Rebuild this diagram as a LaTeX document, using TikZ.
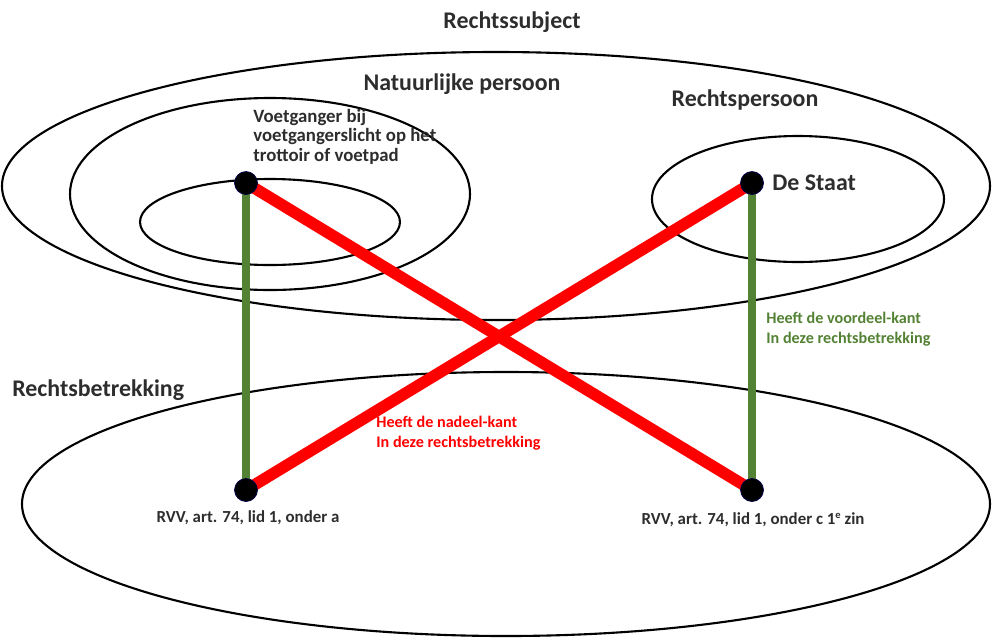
\documentclass[tikz,border=0pt]{standalone}
\usepackage{fontspec}
\setmainfont{Carlito}
\usetikzlibrary{positioning}

\definecolor{groen}{RGB}{84,130,53}
\definecolor{rood}{RGB}{255,0,0}
\definecolor{tekst}{RGB}{45,45,45}

\tikzset{
	punt/.style = {circle, fill=black, draw=black!70!blue, line width=0.4pt, inner sep=0pt, minimum size=0.46cm},
	ovaal/.style = {black, line width=1.2pt},
	groenlijn/.style = {groen, line width=4.6pt},
	roodlijn/.style = {rood, line width=6.6pt},
	kop/.style = {font=\bfseries\fontsize{13.6}{15}\selectfont, text=tekst, inner sep=0pt},
	klein/.style = {font=\bfseries\fontsize{9.2}{11.2}\selectfont, text=tekst, inner sep=0pt, align=left},
}

\begin{document}
\begin{tikzpicture}[x=0.02cm, y=-0.02cm]
	\useasboundingbox (0,0) rectangle (994,640);

	% ellipsen
	\draw [ovaal] (496,186) ellipse [x radius=494, y radius=134];
	\draw [ovaal] (270,194) ellipse [x radius=200, y radius=96];
	\draw [ovaal] (270,222) ellipse [x radius=130, y radius=43];
	\draw [ovaal] (798,199) ellipse [x radius=146, y radius=63];
	\draw [ovaal] (506,504) ellipse [x radius=484, y radius=132];

	% hoekpunten
	\coordinate (voetganger) at (246,183);
	\coordinate (staat) at (752,183);
	\coordinate (artA) at (246,490);
	\coordinate (artC) at (752,490);

	\draw [groenlijn] (voetganger) -- (artA);
	\draw [groenlijn] (staat) -- (artC);
	\draw [roodlijn] (voetganger) -- (artC);
	\draw [roodlijn] (artA) -- (staat);

	\node [punt] (puntV) at (voetganger) {};
	\node [punt] (puntS) at (staat) {};
	\node [punt] (puntA) at (artA) {};
	\node [punt] (puntC) at (artC) {};

	% teksten
	\node [kop] (subject) at (512,22) {Rechtssubject};
	\node [kop] (natuurlijk) at (462,84) {Natuurlijke persoon};
	\node [kop] (rechtspersoon) at (745,100) {Rechtspersoon};
	\node [kop, anchor=west] (destaat) at (772,183) {De Staat};
	\node [kop, anchor=west] (betrekking) at (12,390) {Rechtsbetrekking};
	\node [klein, font=\bfseries\fontsize{10.7}{11}\selectfont, anchor=north west] (voetgangertekst) at (253,109) {Voetganger bij\\voetgangerslicht op het\\trottoir of voetpad};
	\node [klein, text=groen, anchor=north west] (voordeel) at (766,312) {Heeft de voordeel-kant\\In deze rechtsbetrekking};
	\node [klein, text=rood, anchor=north west] (nadeel) at (376,416) {Heeft de nadeel-kant\\In deze rechtsbetrekking};
	\node [klein, font=\bfseries\fontsize{9.6}{11.2}\selectfont] (bronA) at (248,518) {RVV, art. 74, lid 1, onder a};
	\node [klein, font=\bfseries\fontsize{9.6}{11.2}\selectfont] (bronC) at (753,520) {RVV, art. 74, lid 1, onder c 1\raisebox{0.75ex}{\fontsize{6}{6}\selectfont e} zin};
\end{tikzpicture}
\end{document}
